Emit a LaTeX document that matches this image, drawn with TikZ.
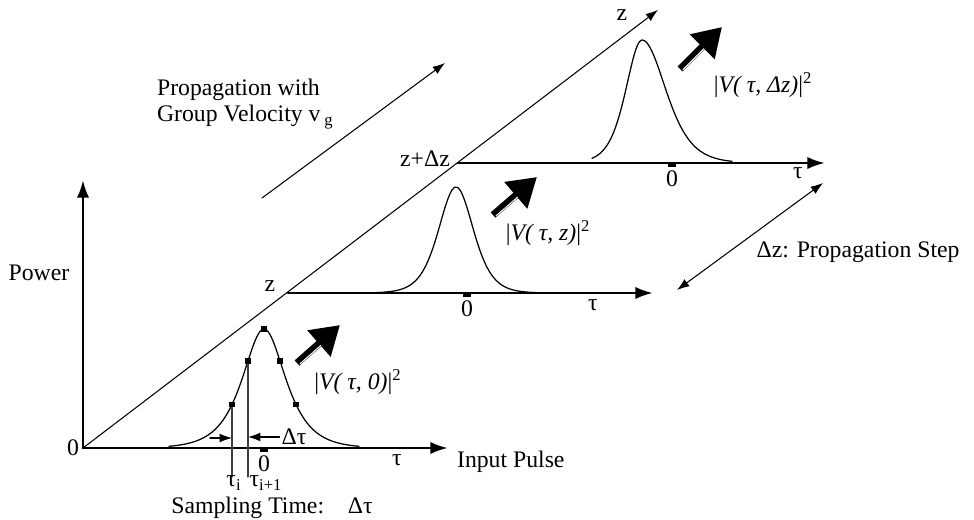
\documentclass[tikz,border=0pt]{standalone}
\usepackage{fontspec}
\setmainfont{Liberation Serif}
\usetikzlibrary{arrows.meta}

\begin{document}
\begin{tikzpicture}[x=0.02cm,y=-0.02cm,>={Latex[length=7pt,width=5pt]},
  font=\fontsize{13.5}{15}\selectfont,line cap=round,
  axis/.style={line width=1.6pt,-{Latex[length=10pt,width=7pt]}},
  guide/.style={line width=0.6pt,->},
  pulse/.style={line width=0.7pt,line join=round},
  sample/.style={rectangle,fill,inner sep=0pt,minimum size=3pt},
  zero/.style={rectangle,fill,inner sep=0pt,minimum width=4pt,minimum height=3pt},
  bigarrow/.style={line width=4pt,line cap=butt,-{Triangle[length=16pt,width=19pt]}},
  streak/.style={white,line width=0.6pt,shorten >=16pt,shorten <=1pt,
    transform canvas={shift={(1pt,-1.1pt)}}},
  lbl/.style={inner sep=1pt}]
\useasboundingbox (0,0) rectangle (974,520);

\coordinate (o) at (83,448);
\coordinate (ptop) at (83,180);
\coordinate (t0end) at (448,448);
\coordinate (ztip) at (658,10);
\coordinate (z1) at (288,293);
\coordinate (t1end) at (653,293);
\coordinate (z2) at (458,163);
\coordinate (t2end) at (825,163);
\coordinate (base) at (0,477);

\draw[axis] (o) -- (ptop);
\draw[axis] (o) -- (t0end);
\draw[axis] (z1) -- (t1end);
\draw[axis] (z2) -- (t2end);
\draw[guide] (o) -- (ztip);

\draw[pulse] plot[domain=-95:95,samples=120] ({264+\x},{448-119/cosh(0.052*\x)});
\draw[pulse] plot[domain=-80:80,samples=100] ({456+\x},{293-106/cosh(0.043*\x)^2});
\draw[pulse] plot[domain=-50:0,samples=40] ({642+\x},{163-123/cosh(0.0464*\x)^2})
  -- plot[domain=0:90,samples=70] ({642+\x},{163-123/cosh(0.0315*\x)^2});

\foreach \d in {-32,-16,0,16,32}
  \node[sample] (s\d) at ({264+\d},{448-119/cosh(0.052*\d)}) {};
\draw[line width=0.6pt,black!75] (s-32) -- (s-32 |- base);
\draw[line width=0.6pt,black!75] (s-16) -- (s-16 |- base);

\node[zero] (zt0) at (264,449.5) {};
\node[zero] (zt1) at (467,294.5) {};
\node[zero] (zt2) at (672,164.5) {};

\node[lbl] (n0) at (264,464) {0};
\node[lbl] (n1) at (467,309) {0};
\node[lbl] (n2) at (672,179) {0};
\node[lbl] (orig) at (73,448) {0};
\node[lbl] (tau0) at (397,460) {τ};
\node[lbl] (tau1) at (593,305) {τ};
\node[lbl] (tau2) at (798,173) {τ};
\node[lbl] (zl) at (622,15) {z};
\node[lbl] (z1l) at (270,286) {z};
\node[lbl] (z2l) at (425,159) {z+Δz};
\node[lbl] (power) at (39,273) {Power};
\node[lbl,anchor=west] (input) at (455,462) {Input Pulse};
\node[lbl] (taui) at (234,483) {τ\textsubscript{i}};
\node[lbl] (tauii) at (266,483) {τ\textsubscript{i+1}};
\node[lbl] (samp) at (272,508) {Sampling Time:\quad Δτ};
\node[lbl] (dtau) at (294,437) {Δτ};

\coordinate (dtl) at (210,438);
\draw[guide] (dtl) -- (s-32 |- dtl);
\draw[guide] (dtau.west) -- (s-16 |- dtau);

\node[lbl,align=left,anchor=west] (prop) at (155,104)
  {Propagation with\\Group Velocity v\,\textsubscript{g}};
\coordinate (pa) at (262,198);
\coordinate (pb) at (445,63);
\draw[guide] (pa) -- (pb);

\coordinate (da) at (677,290);
\coordinate (db) at (823,183);
\draw[guide,<->] (da) -- (db);
\node[lbl] (step) at (858,252) {Δz: Propagation Step};

\coordinate (a0s) at (297,363);
\coordinate (a0e) at (340,325);
\coordinate (a1s) at (493,215);
\coordinate (a1e) at (537,177);
\coordinate (a2s) at (680,69);
\coordinate (a2e) at (722,27);
\foreach \a in {0,1,2} {
  \draw[bigarrow] (a\a s) -- (a\a e);
  \draw[streak] (a\a s) -- (a\a e);
}

\node[lbl] (v0) at (358,382) {|\textit{V( τ, 0)}|\textsuperscript{2}};
\node[lbl] (v1) at (548,233) {|\textit{V( τ, z)}|\textsuperscript{2}};
\node[lbl] (v2) at (763,85) {|\textit{V( τ, Δz)}|\textsuperscript{2}};
\end{tikzpicture}
\end{document}
